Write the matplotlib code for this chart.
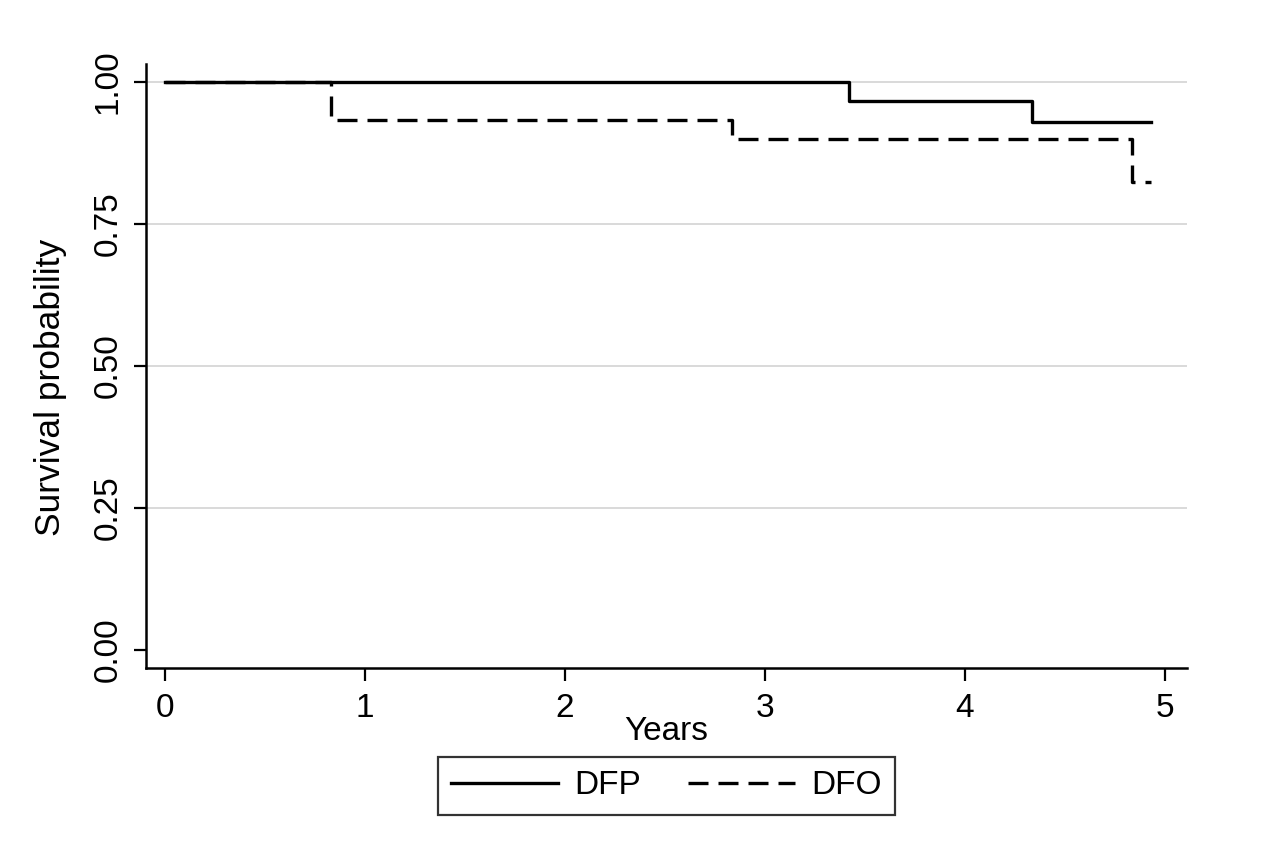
import matplotlib
matplotlib.use('Agg')
import matplotlib.pyplot as plt

# Kaplan-Meier step data
dfp_years = [0, 3.42, 4.335, 4.93]
dfp_surv = [1.0, 0.967, 0.93, 0.93]
dfo_years = [0, 0.83, 2.835, 4.835, 4.93]
dfo_surv = [1.0, 0.933, 0.90, 0.824, 0.824]

x_ticks = [0, 1, 2, 3, 4, 5]
y_ticks = [0.0, 0.25, 0.5, 0.75, 1.0]
y_tick_labels = ['0.00', '0.25', '0.50', '0.75', '1.00']

plt.rcParams['font.family'] = ['Liberation Sans', 'DejaVu Sans']

fig = plt.figure(figsize=(12.74, 8.6), dpi=100)
ax = fig.add_axes([0.1146, 0.2233, 0.8171, 0.7023])

# light horizontal grid (not at zero)
for yv in y_ticks[1:]:
    ax.axhline(yv, color='#d9d9d9', linewidth=1.4, zorder=0)

ax.plot(dfp_years, dfp_surv, drawstyle='steps-post', color='black',
        linewidth=2.4, label='DFP')
ax.plot(dfo_years, dfo_surv, drawstyle='steps-post', color='black',
        linewidth=2.4, linestyle=(0, (6, 3)), label='DFO')

ax.set_xlim(-0.095, 5.11)
ax.set_ylim(-0.032, 1.032)
ax.set_xticks(x_ticks)
ax.set_yticks(y_ticks)
ax.set_yticklabels(y_tick_labels, rotation=90, va='center')

ax.spines['top'].set_visible(False)
ax.spines['right'].set_visible(False)
for s in ['left', 'bottom']:
    ax.spines[s].set_linewidth(1.8)
ax.tick_params(axis='both', direction='out', length=9, width=1.6,
               labelsize=24)
ax.tick_params(axis='x', pad=9)
ax.tick_params(axis='y', pad=7)

ax.set_xlabel('Years', fontsize=24, labelpad=-6)
ax.set_ylabel('Survival probability', fontsize=25.5)
ax.yaxis.set_label_coords(-0.076, 0.465)

leg = ax.legend(loc='upper center', bbox_to_anchor=(0.5, -0.12), ncol=2,
                frameon=True, fancybox=False, edgecolor='black',
                fontsize=24, handlelength=3.2, columnspacing=1.4,
                borderpad=0.4, handletextpad=0.5)
leg.get_frame().set_linewidth(1.6)

fig.savefig('out.png', dpi=100, facecolor='white')
